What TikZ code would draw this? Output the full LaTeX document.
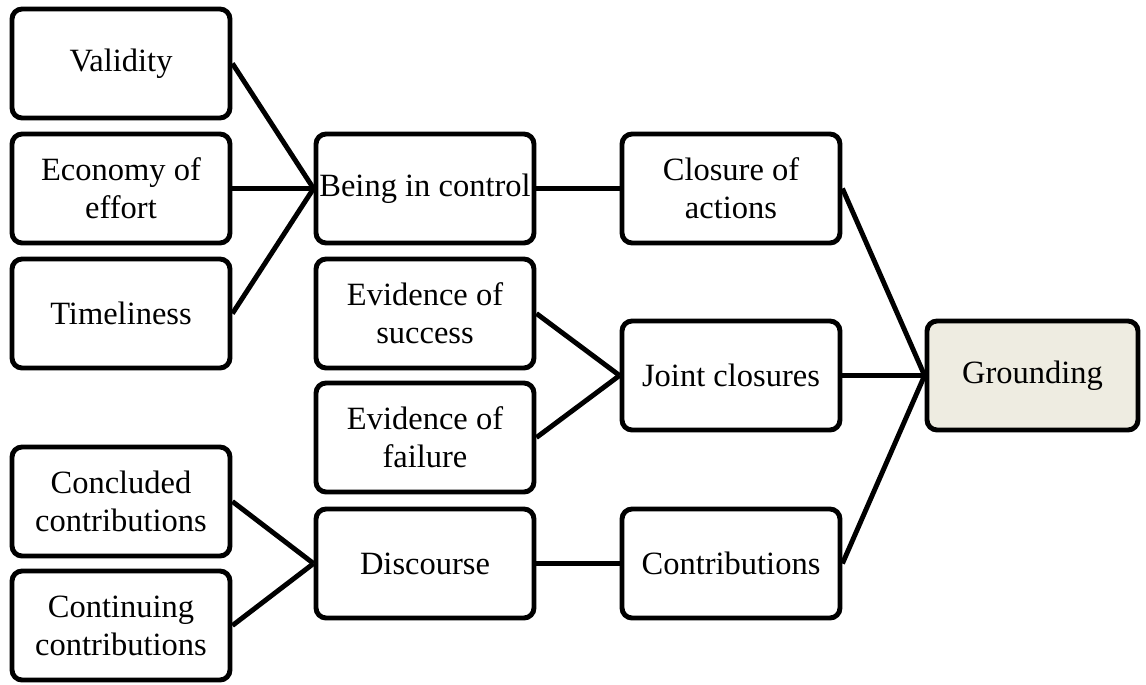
\documentclass[tikz,border=0pt]{standalone}
\usepackage{fontspec}
\setmainfont{Liberation Serif}
\usetikzlibrary{positioning}
\definecolor{groundfill}{RGB}{238,236,225}
\tikzset{
    block/.style={draw, line width=2.8pt, rounded corners=0.2cm,
        minimum width=4.36cm, minimum height=2.18cm, inner sep=0pt,
        align=center, font=\fontsize{18.5}{21.5}\selectfont},
    link/.style={line width=2.8pt}
}
\begin{document}
\begin{tikzpicture}[x=0.02cm, y=-0.02cm]
        \useasboundingbox (0,0) rectangle (1146,684);
        % left column
        \node[block] (validity) at (121,63.5) {Validity};
        \node[block] (economy) at (121,188.5) {Economy of\\effort};
        \node[block] (timeliness) at (121,313.5) {Timeliness};
        \node[block] (concluded) at (121,501.5) {Concluded\\contributions};
        \node[block] (continuing) at (121,625.5) {Continuing\\contributions};
        % middle column
        \node[block] (control) at (425,188.5) {Being in control};
        \node[block] (success) at (425,313.5) {Evidence of\\success};
        \node[block] (failure) at (425,437.5) {Evidence of\\failure};
        \node[block] (discourse) at (425,563.5) {Discourse};
        % third column
        \node[block] (closure) at (731,188.5) {Closure of\\actions};
        \node[block] (joint) at (731,375.5) {Joint closures};
        \node[block] (contributions) at (731,563.5) {Contributions};
        \node[block, fill=groundfill, minimum width=4.22cm] (grounding) at (1032.5,375.5) {Grounding};

        \draw[link] (validity.east) -- (control.west);
        \draw[link] (economy.east) -- (control.west);
        \draw[link] (timeliness.east) -- (control.west);
        \draw[link] (control.east) -- (closure.west);
        \draw[link] (success.east) -- (joint.west);
        \draw[link] (failure.east) -- (joint.west);
        \draw[link] (concluded.east) -- (discourse.west);
        \draw[link] (continuing.east) -- (discourse.west);
        \draw[link] (discourse.east) -- (contributions.west);
        \draw[link] (closure.east) -- (grounding.west);
        \draw[link] (joint.east) -- (grounding.west);
        \draw[link] (contributions.east) -- (grounding.west);
\end{tikzpicture}
\end{document}
